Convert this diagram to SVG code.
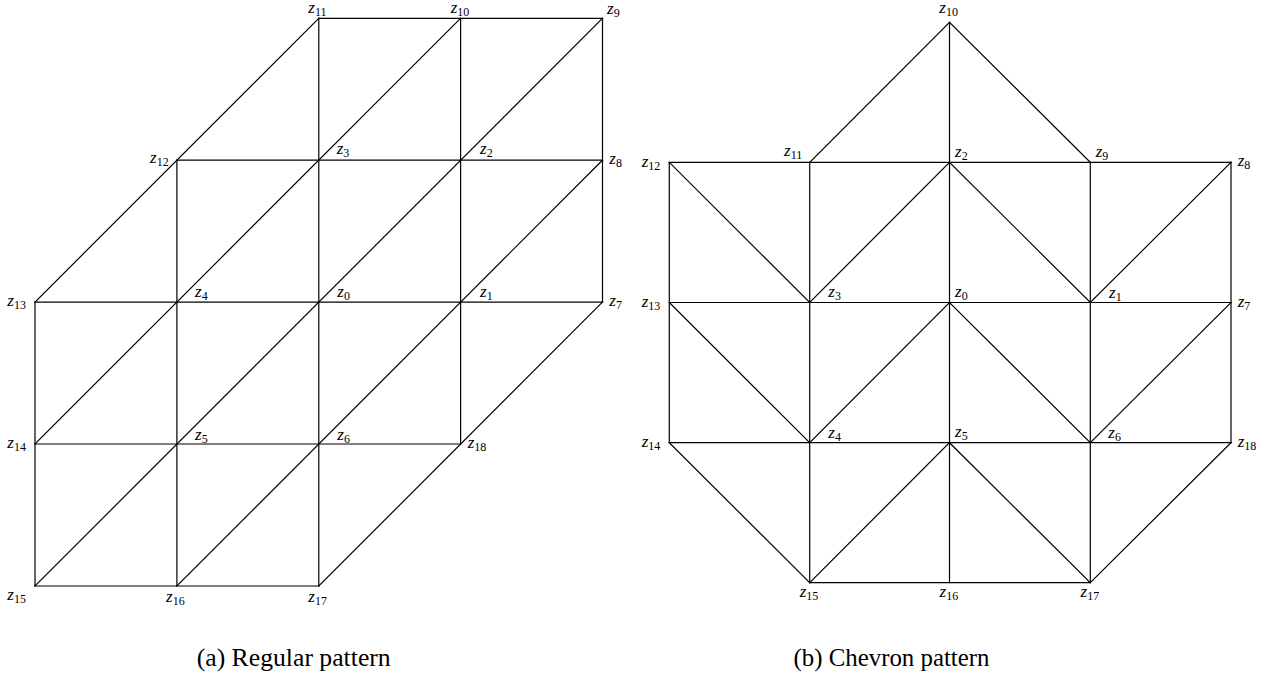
<svg xmlns="http://www.w3.org/2000/svg" width="1273" height="679" viewBox="0 0 1273 679">
<style>
.e{stroke:#000;stroke-width:1.2;fill:none;stroke-linecap:square}
.l{font-family:"Liberation Serif","DejaVu Serif",serif;font-size:17px;font-style:italic;fill:#000}
.s{font-size:12px;font-style:normal}
.c{font-family:"Liberation Serif","DejaVu Serif",serif;font-size:25px;fill:#000}
</style>
<rect width="1273" height="679" fill="#fff"/>
<g id="connectors">
<g id="edges-a">
<line class="e" x1="318.8" y1="18.3" x2="602.5" y2="18.3"/>
<line class="e" x1="176.9" y1="160.2" x2="602.5" y2="160.2"/>
<line class="e" x1="35" y1="302.1" x2="602.5" y2="302.1"/>
<line class="e" x1="35" y1="444" x2="460.6" y2="444"/>
<line class="e" x1="35" y1="586" x2="318.8" y2="586"/>
<line class="e" x1="35" y1="302.1" x2="35" y2="586"/>
<line class="e" x1="176.9" y1="160.2" x2="176.9" y2="586"/>
<line class="e" x1="318.8" y1="18.3" x2="318.8" y2="586"/>
<line class="e" x1="460.6" y1="18.3" x2="460.6" y2="444"/>
<line class="e" x1="602.5" y1="18.3" x2="602.5" y2="302.1"/>
<line class="e" x1="35" y1="302.1" x2="318.8" y2="18.3"/>
<line class="e" x1="35" y1="444" x2="460.6" y2="18.3"/>
<line class="e" x1="35" y1="586" x2="602.5" y2="18.3"/>
<line class="e" x1="176.9" y1="586" x2="602.5" y2="160.2"/>
<line class="e" x1="318.8" y1="586" x2="602.5" y2="302.1"/>
</g>
<g id="edges-b">
<polyline class="e" points="809.7,162.3 949.5,22.3 1090.3,162.3"/>
<line class="e" x1="669.3" y1="162.3" x2="1231" y2="162.3"/>
<line class="e" x1="669.3" y1="302.5" x2="1231" y2="302.5"/>
<line class="e" x1="669.3" y1="442.7" x2="1231" y2="442.7"/>
<line class="e" x1="809.7" y1="582.7" x2="1090.3" y2="582.7"/>
<line class="e" x1="669.3" y1="162.3" x2="669.3" y2="442.7"/>
<line class="e" x1="809.7" y1="162.3" x2="809.7" y2="582.7"/>
<line class="e" x1="949.5" y1="22.3" x2="949.5" y2="582.7"/>
<line class="e" x1="1090.3" y1="162.3" x2="1090.3" y2="582.7"/>
<line class="e" x1="1231" y1="162.3" x2="1231" y2="442.7"/>
<polyline class="e" points="669.3,162.3 809.7,302.5 949.5,162.3 1090.3,302.5 1231,162.3"/>
<polyline class="e" points="669.3,302.5 809.7,442.7 949.5,302.5 1090.3,442.7 1231,302.5"/>
<polyline class="e" points="669.3,442.7 809.7,582.7 949.5,442.7 1090.3,582.7 1231,442.7"/>
</g>
</g>
<g id="nodes-a">
<g id="a-z11"><text class="l" x="308.3" y="13">z<tspan class="s" dy="2.5">11</tspan></text></g>
<g id="a-z10"><text class="l" x="450.7" y="13">z<tspan class="s" dy="2.5">10</tspan></text></g>
<g id="a-z9"><text class="l" x="607" y="14">z<tspan class="s" dy="3">9</tspan></text></g>
<g id="a-z12"><text class="l" x="150" y="163">z<tspan class="s" dy="3">12</tspan></text></g>
<g id="a-z3"><text class="l" x="336.7" y="154">z<tspan class="s" dy="3">3</tspan></text></g>
<g id="a-z2"><text class="l" x="480" y="154">z<tspan class="s" dy="3">2</tspan></text></g>
<g id="a-z8"><text class="l" x="609.3" y="163.5">z<tspan class="s" dy="3">8</tspan></text></g>
<g id="a-z13"><text class="l" x="7.3" y="305.7">z<tspan class="s" dy="3">13</tspan></text></g>
<g id="a-z4"><text class="l" x="195" y="296.5">z<tspan class="s" dy="3">4</tspan></text></g>
<g id="a-z0"><text class="l" x="337.3" y="296.5">z<tspan class="s" dy="3">0</tspan></text></g>
<g id="a-z1"><text class="l" x="480" y="296.5">z<tspan class="s" dy="3">1</tspan></text></g>
<g id="a-z7"><text class="l" x="609.3" y="305.7">z<tspan class="s" dy="3">7</tspan></text></g>
<g id="a-z14"><text class="l" x="7.3" y="447.5">z<tspan class="s" dy="3">14</tspan></text></g>
<g id="a-z5"><text class="l" x="195" y="439.5">z<tspan class="s" dy="3">5</tspan></text></g>
<g id="a-z6"><text class="l" x="337.3" y="439.5">z<tspan class="s" dy="3">6</tspan></text></g>
<g id="a-z18"><text class="l" x="467.7" y="448">z<tspan class="s" dy="3">18</tspan></text></g>
<g id="a-z15"><text class="l" x="7.3" y="600">z<tspan class="s" dy="3">15</tspan></text></g>
<g id="a-z16"><text class="l" x="166" y="601.5">z<tspan class="s" dy="3">16</tspan></text></g>
<g id="a-z17"><text class="l" x="308.3" y="601.5">z<tspan class="s" dy="3">17</tspan></text></g>
</g>
<g id="nodes-b">
<g id="b-z10"><text class="l" x="939.3" y="13">z<tspan class="s" dy="3">10</tspan></text></g>
<g id="b-z12"><text class="l" x="641.7" y="166.5">z<tspan class="s" dy="3">12</tspan></text></g>
<g id="b-z11"><text class="l" x="784" y="155.5">z<tspan class="s" dy="3">11</tspan></text></g>
<g id="b-z2"><text class="l" x="955" y="156.5">z<tspan class="s" dy="3">2</tspan></text></g>
<g id="b-z9"><text class="l" x="1095.7" y="156.5">z<tspan class="s" dy="3">9</tspan></text></g>
<g id="b-z8"><text class="l" x="1237.7" y="166">z<tspan class="s" dy="3">8</tspan></text></g>
<g id="b-z13"><text class="l" x="641.7" y="306.5">z<tspan class="s" dy="3">13</tspan></text></g>
<g id="b-z3"><text class="l" x="828.3" y="297">z<tspan class="s" dy="3">3</tspan></text></g>
<g id="b-z0"><text class="l" x="955" y="297">z<tspan class="s" dy="3">0</tspan></text></g>
<g id="b-z1"><text class="l" x="1109" y="297.5">z<tspan class="s" dy="3">1</tspan></text></g>
<g id="b-z7"><text class="l" x="1237.7" y="306.5">z<tspan class="s" dy="3">7</tspan></text></g>
<g id="b-z14"><text class="l" x="641.7" y="446.7">z<tspan class="s" dy="3">14</tspan></text></g>
<g id="b-z4"><text class="l" x="828.3" y="438.3">z<tspan class="s" dy="3">4</tspan></text></g>
<g id="b-z5"><text class="l" x="955" y="436.7">z<tspan class="s" dy="3">5</tspan></text></g>
<g id="b-z6"><text class="l" x="1108.3" y="438.3">z<tspan class="s" dy="3">6</tspan></text></g>
<g id="b-z18"><text class="l" x="1237.7" y="446.7">z<tspan class="s" dy="3">18</tspan></text></g>
<g id="b-z15"><text class="l" x="799.7" y="596.7">z<tspan class="s" dy="3">15</tspan></text></g>
<g id="b-z16"><text class="l" x="939.5" y="596.7">z<tspan class="s" dy="3">16</tspan></text></g>
<g id="b-z17"><text class="l" x="1080.5" y="596.7">z<tspan class="s" dy="3">17</tspan></text></g>
</g>
<g id="captions">
<text class="c" x="196.7" y="666" textLength="194" lengthAdjust="spacingAndGlyphs">(a) Regular pattern</text>
<text class="c" x="793.5" y="666" textLength="196" lengthAdjust="spacingAndGlyphs">(b) Chevron pattern</text>
</g>
</svg>
